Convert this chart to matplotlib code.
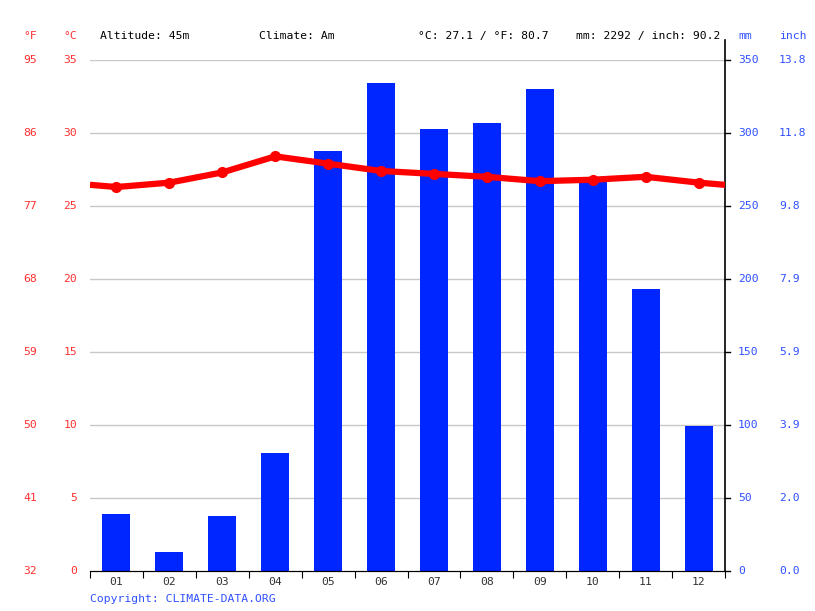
import matplotlib
matplotlib.use("Agg")
import matplotlib.pyplot as plt
import matplotlib.transforms as mtransforms
import numpy as np

months = ["01", "02", "03", "04", "05", "06", "07", "08", "09", "10", "11", "12"]
rain_mm = [39, 13, 38, 81, 288, 334, 303, 307, 330, 270, 193, 99]
temp_c = [26.3, 26.6, 27.3, 28.4, 27.9, 27.4, 27.2, 27.0, 26.7, 26.8, 27.0, 26.6]

c_ticks = [0, 5, 10, 15, 20, 25, 30, 35]
f_labels = ["32", "41", "50", "59", "68", "77", "86", "95"]
mm_ticks = [0, 50, 100, 150, 200, 250, 300, 350]
inch_labels = ["0.0", "2.0", "3.9", "5.9", "7.9", "9.8", "11.8", "13.8"]

header_left = ["Altitude: 45m", "Climate: Am"]
header_right = ["°C: 27.1 / °F: 80.7", "mm: 2292 / inch: 90.2"]

red = "#ff0000"
red_txt = "#ff3030"
blue = "#0026ff"
blue_txt = "#3050ff"
fs = 8.2

plt.rcParams["font.family"] = "DejaVu Sans Mono"

fig = plt.figure(figsize=(8.15, 6.11), dpi=100)
W, H = 815, 611
ax = fig.add_axes([90 / W, 1 - 571 / H, 635 / W, 511 / H])
ax2 = ax.twinx()

x = np.arange(len(months))
ax.bar(x, rain_mm, width=0.53, color=blue, zorder=2)
ax.set_xlim(-0.5, 11.5)
ax.set_ylim(0, 350)

# grid
for v in mm_ticks[1:]:
    ax.axhline(v, color="#c8c8c8", lw=1, zorder=1)

# temperature line, carried on to both edges
edge = (temp_c[0] + temp_c[-1]) / 2
tx = np.concatenate([[-0.5], x, [11.5]])
ty = np.concatenate([[edge], temp_c, [edge]])
ax2.plot(tx, ty, color=red, lw=4.5, solid_capstyle="butt", zorder=3)
ax2.plot(x, temp_c, "o", color=red, ms=7, zorder=4)
ax2.set_ylim(0, 35)
ax2.set_yticks([])

for a in (ax, ax2):
    for s in ("left", "top", "right"):
        a.spines[s].set_visible(False)
ax.spines["bottom"].set_color("black")

# x ticks at month boundaries, labels at centres
ax.set_xticks(np.arange(-0.5, 12, 1))
ax.set_xticklabels([])
ax.tick_params(axis="x", which="major", length=5, direction="out", color="black")
ax.set_xticks(x, minor=True)
ax.set_xticklabels(months, minor=True, fontsize=fs, color="#333333")
ax.tick_params(axis="x", which="minor", length=0, pad=4)

# right spine and mm ticks
ax.set_yticks([])
ax.plot([1, 1], [0, 1.04], transform=ax.transAxes, color="black", lw=1.2, clip_on=False)
for v in mm_ticks:
    ax.plot([11.5, 11.59], [v, v], color="black", lw=1, clip_on=False)

# tick label columns
trL = mtransforms.blended_transform_factory(fig.transFigure, ax2.transData)
trR = mtransforms.blended_transform_factory(fig.transFigure, ax.transData)
for v, f in zip(c_ticks, f_labels):
    ax2.text(37 / W, v, f, transform=trL, fontsize=fs, color=red_txt, ha="right", va="center")
    ax2.text(77 / W, v, str(v), transform=trL, fontsize=fs, color=red_txt, ha="right", va="center")
for v, i in zip(mm_ticks, inch_labels):
    ax.text(738 / W, v, str(v), transform=trR, fontsize=fs, color=blue_txt, ha="left", va="center")
    ax.text(779 / W, v, i, transform=trR, fontsize=fs, color=blue_txt, ha="left", va="center")

# header row
hy = 1 - 36 / H
fig.text(37 / W, hy, "°F", fontsize=fs, color=red_txt, ha="right", va="center")
fig.text(77 / W, hy, "°C", fontsize=fs, color=red_txt, ha="right", va="center")
fig.text(100 / W, hy, header_left[0], fontsize=fs, color="black", ha="left", va="center")
fig.text(259 / W, hy, header_left[1], fontsize=fs, color="black", ha="left", va="center")
fig.text(418 / W, hy, header_right[0], fontsize=fs, color="black", ha="left", va="center")
fig.text(576 / W, hy, header_right[1], fontsize=fs, color="black", ha="left", va="center")
fig.text(738 / W, hy, "mm", fontsize=fs, color=blue_txt, ha="left", va="center")
fig.text(779 / W, hy, "inch", fontsize=fs, color=blue_txt, ha="left", va="center")

fig.text(90 / W, 1 - 599 / H, "Copyright: CLIMATE-DATA.ORG", fontsize=fs, color=blue_txt,
         ha="left", va="center")

fig.savefig("out.png", dpi=100)
